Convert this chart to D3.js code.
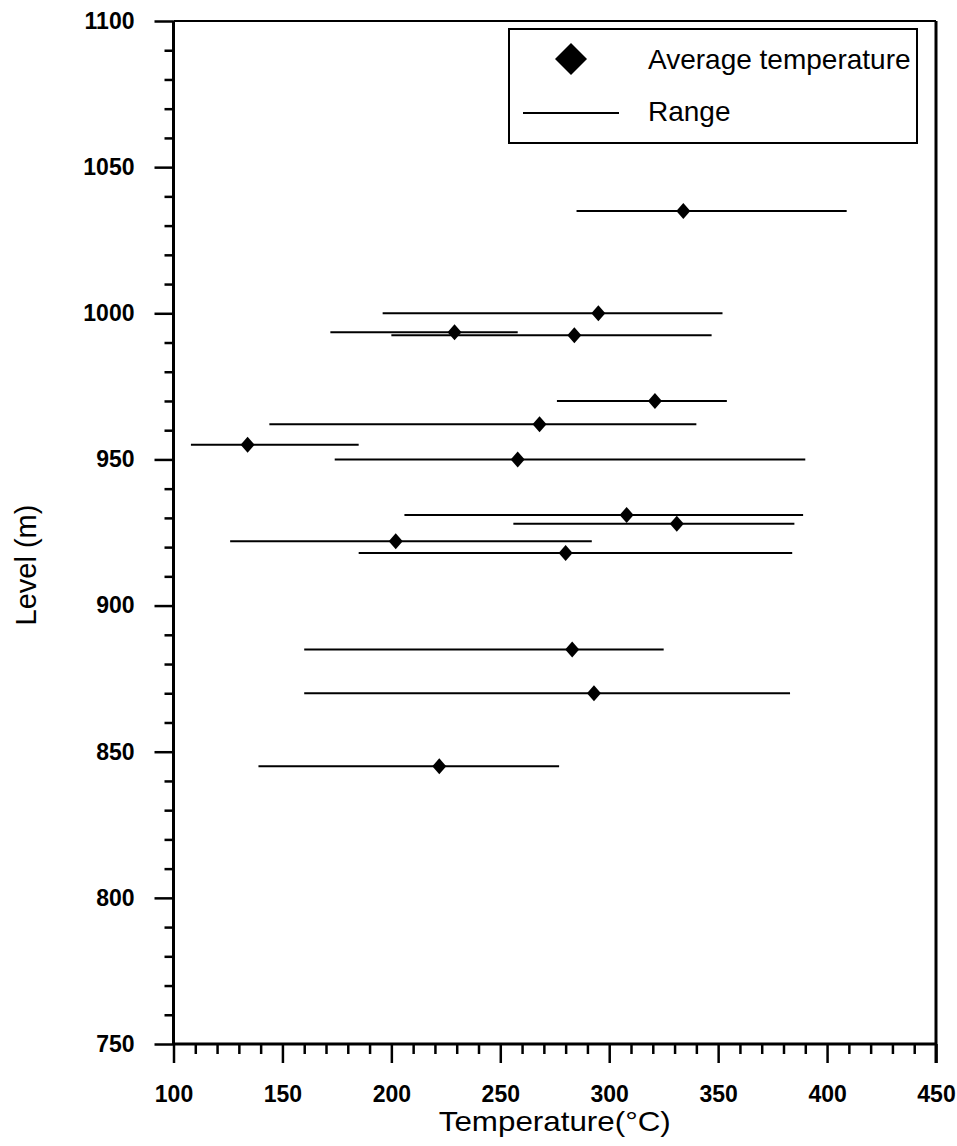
<!DOCTYPE html>
<html>
<head>
<meta charset="utf-8">
<script src="https://cdn.jsdelivr.net/npm/d3@7"></script>
<style>
    body { margin: 0; background: #fff; }
    text { font-family: 'Liberation Sans', Arial, sans-serif; fill: #000; }
</style>
</head>
<body>
<div id="graph"></div>
<script>
// values
var levels  = [1035, 1000, 993.5, 992.5, 970, 962, 955, 950, 931, 928, 922, 918, 885, 870, 845];
var avgTemp = [334, 295, 229, 284, 321, 268, 134, 258, 308, 331, 202, 280, 283, 293, 222];
var minTemp = [285, 196, 172, 200, 276, 144, 108, 174, 206, 256, 126, 185, 160, 160, 139];
var maxTemp = [409, 352, 258, 347, 354, 340, 185, 390, 389, 385, 292, 384, 325, 383, 277];

var xTicks = [100, 150, 200, 250, 300, 350, 400, 450];
var yTicks = [750, 800, 850, 900, 950, 1000, 1050, 1100];
var legendLabels = ['Average temperature', 'Range'];

var width = 957,
    height = 1146;

var plotLeft = 173.5, plotRight = 936, plotTop = 21, plotBottom = 1044;

var rows = levels.map(function(d, i) {
    return { level: d, avg: avgTemp[i], lo: minTemp[i], hi: maxTemp[i] };
});

var svg = d3.select('#graph')
    .append('svg')
        .attr('width', width)
        .attr('height', height);

var x = d3.scaleLinear()
    .domain([100, 450])
    .range([plotLeft, plotRight]);

var y = d3.scaleLinear()
    .domain([750, 1100])
    .range([plotBottom, plotTop]);

function diamond(w, h) {
    return 'M0,' + (-h / 2) + 'L' + (w / 2) + ',0L0,' + (h / 2) + 'L' + (-w / 2) + ',0Z';
}

// minor ticks
var xMinor = d3.range(100, 451, 10).filter(function(d) { return d % 50 != 0; });
var yMinor = d3.range(750, 1101, 10).filter(function(d) { return d % 50 != 0; });

svg.append('g')
    .attr('transform', 'translate(0,' + plotBottom + ')')
    .call(d3.axisBottom(x).tickValues(xMinor).tickSize(10).tickFormat(''))
    .call(function(g) { g.select('.domain').remove(); })
    .selectAll('line').attr('stroke-width', 2.5);

svg.append('g')
    .attr('transform', 'translate(' + plotLeft + ',0)')
    .call(d3.axisLeft(y).tickValues(yMinor).tickSize(9).tickFormat(''))
    .call(function(g) { g.select('.domain').remove(); })
    .selectAll('line').attr('stroke-width', 2.5);

// major ticks + labels
var xAxis = svg.append('g')
    .attr('transform', 'translate(0,' + plotBottom + ')')
    .call(d3.axisBottom(x).tickValues(xTicks).tickSize(19).tickPadding(23).tickFormat(d3.format('d')));
xAxis.select('.domain').remove();
xAxis.selectAll('line').attr('stroke-width', 2.5);
xAxis.selectAll('text')
    .style('font-size', '23px')
    .style('font-weight', 'bold');

var yAxis = svg.append('g')
    .attr('transform', 'translate(' + plotLeft + ',0)')
    .call(d3.axisLeft(y).tickValues(yTicks).tickSize(19).tickPadding(20).tickFormat(d3.format('d')));
yAxis.select('.domain').remove();
yAxis.selectAll('line').attr('stroke-width', 2.5);
yAxis.selectAll('text')
    .style('font-size', '23px')
    .style('font-weight', 'bold');

// frame
svg.append('line')
    .attr('x1', plotLeft).attr('x2', plotRight)
    .attr('y1', plotTop).attr('y2', plotTop)
    .attr('stroke', '#000').attr('stroke-width', 2);
svg.append('line')
    .attr('x1', plotLeft).attr('x2', plotRight)
    .attr('y1', plotBottom).attr('y2', plotBottom)
    .attr('stroke', '#000').attr('stroke-width', 3);
svg.append('line')
    .attr('x1', plotLeft).attr('x2', plotLeft)
    .attr('y1', plotTop).attr('y2', plotBottom)
    .attr('stroke', '#000').attr('stroke-width', 3);
svg.append('line')
    .attr('x1', plotRight).attr('x2', plotRight)
    .attr('y1', plotTop).attr('y2', plotBottom + 19)
    .attr('stroke', '#000').attr('stroke-width', 3);

// ranges
svg.append('g')
    .selectAll('line')
    .data(rows).enter().append('line')
    .attr('x1', function(d) { return x(d.lo); })
    .attr('x2', function(d) { return x(d.hi); })
    .attr('y1', function(d) { return y(d.level); })
    .attr('y2', function(d) { return y(d.level); })
    .attr('stroke', '#000')
    .attr('stroke-width', 2);

// averages
svg.append('g')
    .selectAll('path')
    .data(rows).enter().append('path')
    .attr('d', diamond(14, 16))
    .attr('transform', function(d) { return 'translate(' + x(d.avg) + ',' + y(d.level) + ')'; })
    .attr('fill', '#000');

// axis titles
svg.append('text')
    .attr('x', (plotLeft + plotRight) / 2)
    .attr('y', 1131)
    .attr('text-anchor', 'middle')
    .attr('textLength', 232)
    .attr('lengthAdjust', 'spacingAndGlyphs')
    .style('font-size', '28px')
    .text('Temperature(°C)');

svg.append('text')
    .attr('transform', 'translate(36,565) rotate(-90)')
    .attr('text-anchor', 'middle')
    .style('font-size', '29px')
    .text('Level (m)');

// LEGEND -----------------------------------------------------------------------------
var legend = svg.append('g');
legend.append('rect')
    .attr('x', 509)
    .attr('y', 29)
    .attr('width', 408)
    .attr('height', 114)
    .attr('fill', '#fff')
    .attr('stroke', '#000')
    .attr('stroke-width', 2);
legend.append('path')
    .attr('d', diamond(32, 32))
    .attr('transform', 'translate(571,59)')
    .attr('fill', '#000');
legend.append('line')
    .attr('x1', 523).attr('x2', 619)
    .attr('y1', 113).attr('y2', 113)
    .attr('stroke', '#000')
    .attr('stroke-width', 2);
legend.selectAll('text')
    .data(legendLabels).enter().append('text')
    .attr('x', 648)
    .attr('y', function(d, i) { return i == 0 ? 69 : 121; })
    .style('font-size', '28px')
    .text(function(d) { return d; });
</script>
</body>
</html>
